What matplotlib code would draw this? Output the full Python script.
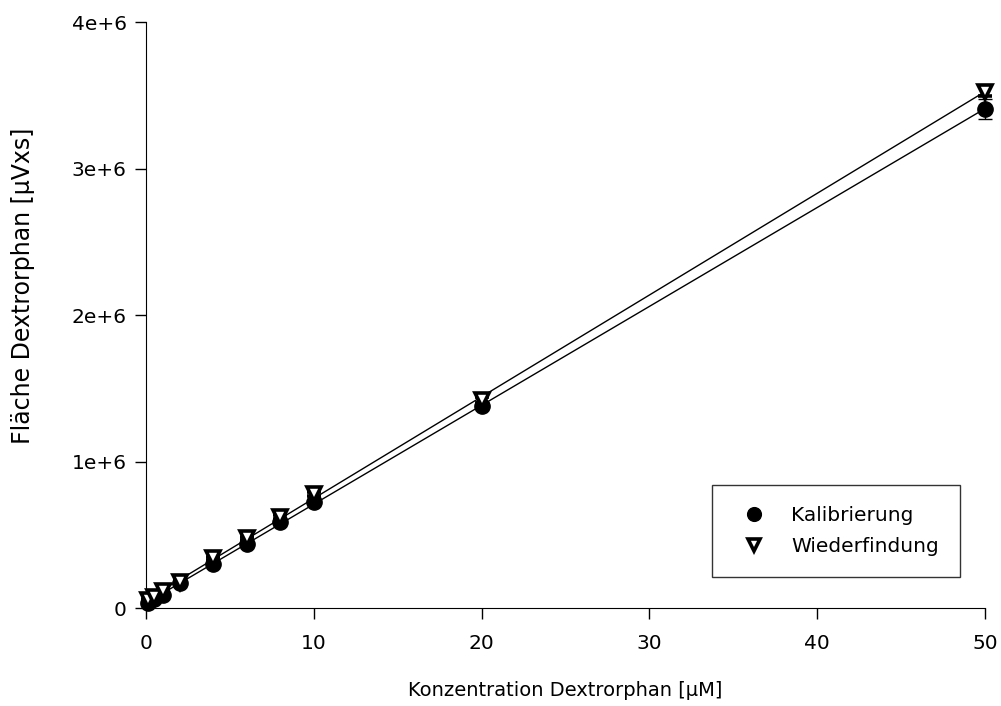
import numpy as np
import matplotlib.pyplot as plt

# Konzentrationen [uM]
konz = [0.1, 0.5, 1, 2, 4, 6, 8, 10, 20, 50]

# Kalibrierung: Flaechen [uVxs] und Standardabweichungen
kal = [35000, 60000, 89000, 173000, 300000, 437000, 589000, 725000, 1380000, 3405000]
kal_sd = [5000, 5000, 6000, 8000, 10000, 12000, 15000, 15000, 25000, 70000]

# Wiederfindung
wdf = [55000, 77000, 118000, 180000, 339000, 476000, 623000, 778000, 1420000, 3525000]
wdf_sd = [4000, 5000, 6000, 8000, 9000, 12000, 14000, 15000, 20000, 30000]

labels = ["Kalibrierung", "Wiederfindung"]

fig = plt.figure(figsize=(10.01, 7.06), dpi=100)
ax = fig.add_axes([146/1001, 98/706, 839/1001, 586/706])

# Regressionsgeraden
xx = np.array([0, 50])
for y in (kal, wdf):
    m, b = np.polyfit(konz, y, 1)
    ax.plot(xx, m*xx + b, color='black', lw=1, zorder=1)

e1 = ax.errorbar(konz, kal, yerr=kal_sd, fmt='o', color='black', ms=11,
                 capsize=5, elinewidth=1, capthick=1, zorder=3, label=labels[0])
e2 = ax.errorbar(konz, wdf, yerr=wdf_sd, fmt='v', mfc='white', mec='black', mew=2.6,
                 ecolor='black', ms=10, capsize=5, elinewidth=1, capthick=1,
                 zorder=4, label=labels[1])
for cont in (e1, e2):
    for art in cont.get_children():
        art.set_clip_on(False)

ax.set_xlim(0, 50)
ax.set_ylim(0, 4e6)
ax.set_xticks([0, 10, 20, 30, 40, 50])
ax.set_yticks([0, 1e6, 2e6, 3e6, 4e6])
ax.set_yticklabels(["0", "1e+6", "2e+6", "3e+6", "4e+6"])

for s in ('top', 'right'):
    ax.spines[s].set_visible(False)
ax.tick_params(direction='out', length=8, width=1, labelsize=14.5)
ax.tick_params(axis='x', pad=11)
ax.tick_params(axis='y', pad=6)

ax.set_xlabel("Konzentration Dextrorphan [µM]", fontsize=14, labelpad=20)
ax.set_ylabel("Fläche Dextrorphan [µVxs]", fontsize=17)
ax.yaxis.set_label_coords(-0.132, 0.549)

handles, lab = ax.get_legend_handles_labels()
handles = [h[0] for h in handles]
leg = ax.legend(handles, lab, loc='lower right', bbox_to_anchor=(0.970, 0.053),
                fontsize=14.5, frameon=True, fancybox=False, edgecolor='black',
                borderpad=1.05, labelspacing=0.6, handletextpad=0.85,
                handlelength=2.0, borderaxespad=0, markerscale=0.9)
leg.get_frame().set_linewidth(1)

fig.savefig("out.png", dpi=100)
